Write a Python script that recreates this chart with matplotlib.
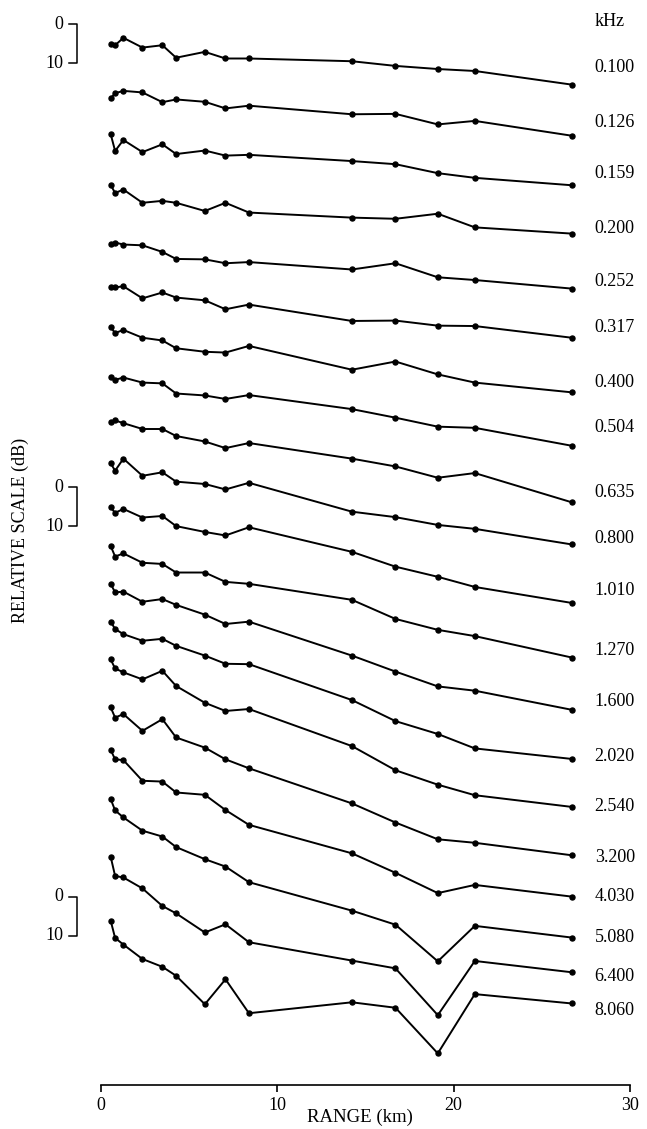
import numpy as np
import matplotlib
matplotlib.use("Agg")
import matplotlib.pyplot as plt

plt.rcParams['font.family'] = ['Liberation Serif', 'DejaVu Serif']

# range of each measurement (km)
range_km = [0.55, 0.80, 1.27, 2.35, 3.48, 4.26, 5.89, 7.06, 8.39,
            14.23, 16.7, 19.1, 21.2, 26.7]

freq_labels = ['0.100', '0.126', '0.159', '0.200', '0.252', '0.317', '0.400',
               '0.504', '0.635', '0.800', '1.010', '1.270', '1.600', '2.020',
               '2.540', '3.200', '4.030', '5.080', '6.400', '8.060']

# relative attenuation (dB) with respect to the first point of each curve
rel_db = [
    [0, 0.3, -1.6, 0.9, 0.3, 3.5, 2.0, 3.7, 3.7, 4.4, 5.6, 6.4, 6.9, 10.4],
    [0, -1.3, -1.9, -1.5, 1.0, 0.3, 0.9, 2.6, 1.9, 4.1, 4.0, 6.7, 5.8, 9.6],
    [0, 4.3, 1.5, 4.6, 2.6, 5.1, 4.2, 5.5, 5.3, 6.9, 7.7, 10.0, 11.2, 13.1],
    [0, 2.1, 1.2, 4.6, 4.1, 4.6, 6.7, 4.6, 7.1, 8.4, 8.7, 7.4, 10.9, 12.5],
    [0, -0.4, 0.1, 0.3, 2.0, 3.8, 3.9, 4.9, 4.6, 6.5, 4.9, 8.5, 9.2, 11.4],
    [0, 0, -0.3, 2.8, 1.3, 2.6, 3.3, 5.6, 4.4, 8.6, 8.5, 9.8, 9.9, 12.9],
    [0, 1.5, 0.7, 2.7, 3.4, 5.4, 6.3, 6.5, 4.8, 10.9, 8.8, 12.1, 14.2, 16.7],
    [0, 0.8, 0.2, 1.5, 1.7, 4.3, 4.8, 5.7, 4.7, 8.3, 10.5, 12.8, 13.1, 17.7],
    [0, -0.3, 0.4, 1.9, 1.9, 3.7, 5.1, 6.8, 5.5, 9.5, 11.5, 14.4, 13.2, 20.7],
    [0, 1.9, -1.2, 3.2, 2.3, 4.7, 5.3, 6.7, 5.0, 12.4, 13.8, 15.8, 16.8, 20.8],
    [0, 1.4, 0.4, 2.6, 2.2, 4.8, 6.3, 7.2, 5.1, 11.4, 15.2, 17.8, 20.4, 24.5],
    [0, 2.7, 1.9, 4.3, 4.6, 6.8, 6.8, 9.2, 9.7, 13.8, 18.7, 21.5, 23.1, 28.6],
    [0, 2.2, 2.0, 4.6, 3.9, 5.4, 7.9, 10.3, 9.7, 18.4, 22.5, 26.3, 27.4, 32.3],
    [0, 1.9, 3.2, 4.9, 4.4, 6.2, 8.7, 10.8, 10.9, 20.1, 25.5, 28.8, 32.5, 35.2],
    [0, 2.3, 3.3, 5.1, 2.9, 6.8, 11.1, 13.2, 12.7, 22.2, 28.4, 32.1, 34.8, 37.8],
    [0, 2.6, 1.7, 6.0, 3.0, 7.7, 10.3, 13.3, 15.6, 24.6, 29.5, 33.8, 34.7, 37.9],
    [0, 2.4, 2.6, 7.9, 8.1, 10.9, 11.5, 15.4, 19.2, 26.5, 31.5, 36.7, 34.6, 37.6],
    [0, 2.9, 4.7, 8.1, 9.6, 12.3, 15.4, 17.3, 21.3, 28.6, 32.2, 41.6, 32.5, 35.5],
    [0, 4.9, 5.3, 8.1, 12.6, 14.5, 19.4, 17.3, 21.9, 26.6, 28.6, 40.6, 26.7, 29.6],
    [0, 4.4, 6.1, 9.8, 11.8, 14.1, 21.4, 15.0, 23.7, 20.9, 22.3, 34.0, 18.8, 21.2],
]

# vertical stacking of the curves (dB from top of plot)
stack_offset = [11.3, 25.2, 34.4, 47.4, 62.6, 73.7, 83.9, 96.6, 108.1, 118.8,
                130.1, 140.0, 149.7, 159.4, 169.1, 181.4, 192.3, 204.9, 219.7, 236.1]
label_y = [17.4, 31.3, 44.4, 58.5, 72.3, 84.1, 98.2, 109.7, 126.2, 138.0,
           151.5, 166.7, 180.0, 193.9, 206.9, 220.0, 230.0, 240.3, 250.3, 259.0]
bracket_top = [6.2, 124.9, 230.0]

fig = plt.figure(figsize=(6.47, 11.29), dpi=100)
ax = fig.add_axes([101 / 647, 1 - 1085 / 1129, 529 / 647, 1085 / 1129])

for off, vals in zip(stack_offset, rel_db):
    ax.plot(range_km, off + np.array(vals), color='black', lw=1.4,
            marker='o', ms=3.6, clip_on=False)

for lab, ly in zip(freq_labels, label_y):
    ax.text(28.0, ly, lab, fontsize=13, va='center', ha='left')
ax.text(28.0, 5.6, 'kHz', fontsize=13, va='center', ha='left')

# 10 dB scale brackets
for b in bracket_top:
    ax.plot([-1.8, -1.36, -1.36, -1.8], [b, b, b + 10, b + 10],
            color='black', lw=1.1, clip_on=False)
    ax.text(-2.15, b, '0', fontsize=13, ha='right', va='center')
    ax.text(-2.15, b + 10, '10', fontsize=13, ha='right', va='center')

ax.set_xlim(0, 30)
ax.set_ylim(1085 / 3.9, 0)
for s in ['top', 'right', 'left']:
    ax.spines[s].set_visible(False)
ax.spines['bottom'].set_linewidth(1.2)
ax.set_yticks([])
ax.set_xticks([0, 10, 20, 30])
ax.tick_params(axis='x', direction='out', length=5, width=1.2, labelsize=13, pad=4)
fig.text(360 / 647, 1 - 1117 / 1129, 'RANGE (km)', fontsize=13.5,
         ha='center', va='center')
fig.text(20 / 647, 1 - 530 / 1129, 'RELATIVE SCALE (dB)', rotation=90,
         fontsize=13, ha='center', va='center')

fig.savefig('out.png', dpi=100)
